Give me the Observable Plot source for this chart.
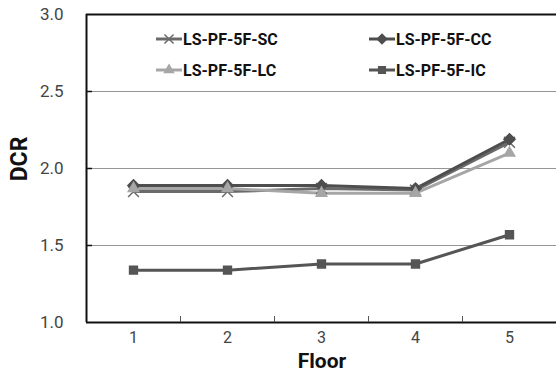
<!DOCTYPE html>
<html>
<head>
<meta charset="utf-8">
<script src="https://cdn.jsdelivr.net/npm/d3@7"></script>
<script src="https://cdn.jsdelivr.net/npm/@observablehq/plot@0.6"></script>
<style>
  html, body { margin: 0; padding: 0; background: #fff; }
  #chart { position: relative; width: 556px; height: 373px; }
  .legend { position: absolute; font-family: Roboto, "Liberation Sans", sans-serif;
            font-weight: bold; font-size: 16px; color: #111; display: flex; align-items: center; }
  .legend svg { margin-right: 1px; }
</style>
</head>
<body>
<div id="chart"></div>
<script>
// Demand-to-capacity ratio per floor for the four 5-storey frame variants
const floors = [1, 2, 3, 4, 5];
const seriesNames = ["LS-PF-5F-SC", "LS-PF-5F-CC", "LS-PF-5F-LC", "LS-PF-5F-IC"];
const dcrSC = [1.85, 1.85, 1.87, 1.86, 2.17];
const dcrCC = [1.89, 1.89, 1.89, 1.87, 2.19];
const dcrLC = [1.87, 1.87, 1.84, 1.84, 2.10];
const dcrIC = [1.34, 1.34, 1.38, 1.38, 1.57];
const yTicks = [1.0, 1.5, 2.0, 2.5, 3.0];

const seriesColors = ["#6a6a6a", "#4e4e4e", "#a6a6a6", "#555555"];
const seriesSymbols = ["times", "diamond2", "triangle2", "square2"];

const values = [dcrSC, dcrCC, dcrLC, dcrIC];
const data = seriesNames.flatMap((name, i) =>
  floors.map((f, j) => ({ series: name, floor: f, dcr: values[i][j] })));

const font = 'Roboto, "Liberation Sans", sans-serif';

const chart = Plot.plot({
  width: 556,
  height: 373,
  marginLeft: 86,
  marginRight: 0,
  marginTop: 14,
  marginBottom: 51,
  style: { fontFamily: font, background: "#fff", overflow: "visible" },
  x: { type: "linear", domain: [0.5, 5.5] },
  y: { domain: [1, 3] },
  color: { domain: seriesNames, range: seriesColors },
  symbol: { domain: seriesNames, range: seriesSymbols },
  marks: [
    Plot.ruleY(yTicks.filter(d => d > 1 && d < 3), { stroke: "#959595", strokeWidth: 1.2 }),
    Plot.ruleY([3], { stroke: "#111", strokeWidth: 2 }),
    Plot.ruleY([1], { stroke: "#111", strokeWidth: 2 }),
    Plot.ruleX([0.5], { stroke: "#111", strokeWidth: 2 }),
    // inward tick marks
    Plot.axisY({ ticks: yTicks.filter(d => d > 1 && d < 3), tickSize: -6, tickFormat: () => "", stroke: "#111", strokeWidth: 1.5, label: null }),
    Plot.axisX({ ticks: [1.5, 2.5, 3.5, 4.5], tickSize: -6, tickFormat: () => "", stroke: "#555", label: null }),
    // tick labels
    Plot.axisY({ ticks: yTicks, tickSize: 0, tickPadding: 23, tickFormat: d3.format(".1f"),
                 fontSize: 17, fill: "#444", label: null }),
    Plot.axisX({ ticks: floors, tickSize: 0, tickPadding: 9, tickFormat: d3.format("d"),
                 fontSize: 16, fill: "#444", label: null }),
    Plot.line(data, { x: "floor", y: "dcr", z: "series", stroke: "series", strokeWidth: 3 }),
    Plot.dot(data, { x: "floor", y: "dcr", symbol: "series", fill: "series", stroke: "series", r: 5, strokeWidth: 1.5 })
  ]
});

const svg = d3.select(chart);
// axis titles
svg.append("text")
  .attr("transform", "translate(27,159) rotate(-90)")
  .attr("text-anchor", "middle")
  .attr("font-family", font).attr("font-weight", "bold").attr("font-size", 23).attr("fill", "#111")
  .text("DCR");
svg.append("text")
  .attr("x", 322).attr("y", 368)
  .attr("text-anchor", "middle")
  .attr("font-family", font).attr("font-weight", "bold").attr("font-size", 21).attr("fill", "#111")
  .text("Floor");

const host = document.getElementById("chart");
host.appendChild(chart);

// legend: two columns, two rows inside the plot frame
const legendPos = [[156, 39], [369, 39], [156, 70], [369, 70]];
seriesNames.forEach((name, i) => {
  const item = document.createElement("div");
  item.className = "legend";
  item.style.left = legendPos[i][0] + "px";
  item.style.top = (legendPos[i][1] - 11) + "px";
  item.style.height = "22px";
  const sym = d3.create("svg").attr("width", 26).attr("height", 22);
  sym.append("line").attr("x1", 0).attr("x2", 26).attr("y1", 11).attr("y2", 11)
    .attr("stroke", seriesColors[i]).attr("stroke-width", 3);
  const symbolType = { times: d3.symbolTimes, diamond2: d3.symbolDiamond2, triangle2: d3.symbolTriangle2, square2: d3.symbolSquare2 }[seriesSymbols[i]];
  sym.append("path").attr("transform", "translate(13,11)")
    .attr("d", d3.symbol(symbolType, 56)())
    .attr("fill", seriesColors[i]).attr("stroke", seriesColors[i]).attr("stroke-width", 1.5);
  item.appendChild(sym.node());
  const label = document.createElement("span");
  label.textContent = name;
  item.appendChild(label);
  host.appendChild(item);
});
</script>
</body>
</html>
